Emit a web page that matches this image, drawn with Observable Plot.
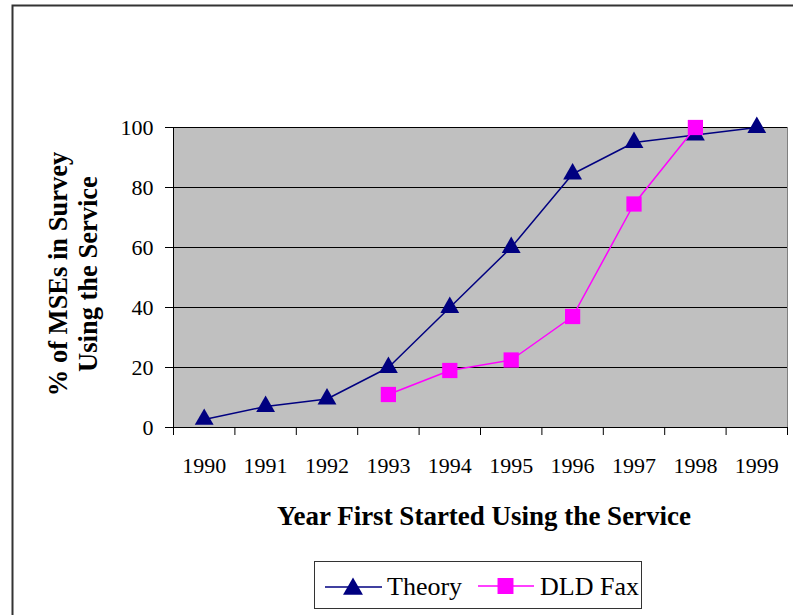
<!DOCTYPE html>
<html>
<head>
<meta charset="utf-8">
<script src="https://cdn.jsdelivr.net/npm/d3@7"></script>
<script src="https://cdn.jsdelivr.net/npm/@observablehq/plot@0.6"></script>
<style>
  html, body { margin: 0; padding: 0; background: #fff; }
  svg { display: block; }
</style>
</head>
<body>
<div id="chart"></div>
<script>
const years = [1990, 1991, 1992, 1993, 1994, 1995, 1996, 1997, 1998, 1999];
const theory = [2.7, 7, 9.5, 20, 40, 60, 84.5, 95, 97.5, 100];
const dldYears = [1993, 1994, 1995, 1996, 1997, 1998];
const dldFax = [11, 19, 22.5, 37, 74.5, 100];
const yTicks = [0, 20, 40, 60, 80, 100];
const gridValues = [20, 40, 60, 80, 100];

const theoryData = years.map((y, i) => ({year: y, value: theory[i]}));
const dldData = dldYears.map((y, i) => ({year: y, value: dldFax[i]}));
const boundaries = years.map(y => y - 0.5).concat([years[years.length - 1] + 0.5]);

const NAVY = "#000080";
const MAGENTA = "#FF00FF";
const FONT = "Liberation Serif, Times New Roman, serif";

const chart = Plot.plot({
  width: 793,
  height: 615,
  marginLeft: 173,
  marginRight: 6,
  marginTop: 127,
  marginBottom: 188,
  style: {fontFamily: FONT, fontSize: "22px", color: "#000", background: "#fff"},
  x: {type: "linear", domain: [years[0] - 0.5, years[years.length - 1] + 0.5], axis: null},
  y: {domain: [0, 100], axis: null},
  marks: [
    Plot.frame({fill: "#C0C0C0", stroke: "#808080", strokeWidth: 1}),
    Plot.ruleY(gridValues, {stroke: "#000", strokeWidth: 1}),
    Plot.ruleY([0], {stroke: "#000", strokeWidth: 1}),
    Plot.ruleX([boundaries[0]], {stroke: "#000", strokeWidth: 1}),
    Plot.axisY(yTicks, {label: null, tickSize: 8, tickPadding: 12, stroke: "#000", fill: "#000",
      fontFamily: FONT, fontSize: 22, tickFormat: d => String(d)}),
    Plot.axisX(boundaries, {label: null, tickSize: 8, stroke: "#000", tickFormat: () => ""}),
    Plot.axisX(years, {label: null, tickSize: 0, tickPadding: 30, fill: "#000",
      fontFamily: FONT, fontSize: 22, tickFormat: d => String(d)}),
    Plot.line(theoryData, {x: "year", y: "value", stroke: NAVY, strokeWidth: 1.5}),
    Plot.dot(theoryData, {x: "year", y: "value", symbol: "triangle", r: 7.0, fill: NAVY, stroke: "none"}),
    Plot.line(dldData, {x: "year", y: "value", stroke: MAGENTA, strokeWidth: 1.5}),
    Plot.dot(dldData, {x: "year", y: "value", symbol: "square", r: 8.6, fill: MAGENTA, stroke: "none"})
  ]
});

document.getElementById("chart").appendChild(chart);

const svg = d3.select(chart);
// outer frame
svg.append("path")
  .attr("d", "M12.5,615 V5.5 H793")
  .attr("fill", "none").attr("stroke", "#333").attr("stroke-width", 2);

// axis titles
svg.append("text")
  .attr("x", 484).attr("y", 525)
  .attr("text-anchor", "middle")
  .attr("font-family", FONT).attr("font-weight", "bold").attr("font-size", 27)
  .text("Year First Started Using the Service");

const yt = svg.append("text")
  .attr("transform", "translate(67,274) rotate(-90)")
  .attr("text-anchor", "middle")
  .attr("font-family", FONT).attr("font-weight", "bold").attr("font-size", 26.5);
yt.append("tspan").attr("x", 0).attr("y", 0).text("% of MSEs in Survey");
yt.append("tspan").attr("x", 0).attr("y", 30).text("Using the Service");

// legend
const lg = svg.append("g").attr("font-family", FONT).attr("font-size", 26).attr("text-anchor", "start");
lg.append("rect").attr("x", 314.5).attr("y", 561.5).attr("width", 327).attr("height", 47)
  .attr("fill", "#fff").attr("stroke", "#333").attr("stroke-width", 1);
lg.append("line").attr("x1", 325).attr("x2", 382).attr("y1", 587).attr("y2", 587)
  .attr("stroke", NAVY).attr("stroke-width", 1.5);
lg.append("path").attr("d", d3.symbol(d3.symbolTriangle, Math.PI * 7.4 * 7.4)())
  .attr("transform", "translate(353,589)").attr("fill", NAVY);
lg.append("text").attr("x", 387).attr("y", 595).attr("text-anchor", "start").text("Theory");
lg.append("line").attr("x1", 478).attr("x2", 534).attr("y1", 586).attr("y2", 586)
  .attr("stroke", MAGENTA).attr("stroke-width", 1.5);
lg.append("path").attr("d", d3.symbol(d3.symbolSquare, Math.PI * 9 * 9)())
  .attr("transform", "translate(505.5,586)").attr("fill", MAGENTA);
lg.append("text").attr("x", 540).attr("y", 595).attr("text-anchor", "start").text("DLD Fax");
</script>
</body>
</html>
